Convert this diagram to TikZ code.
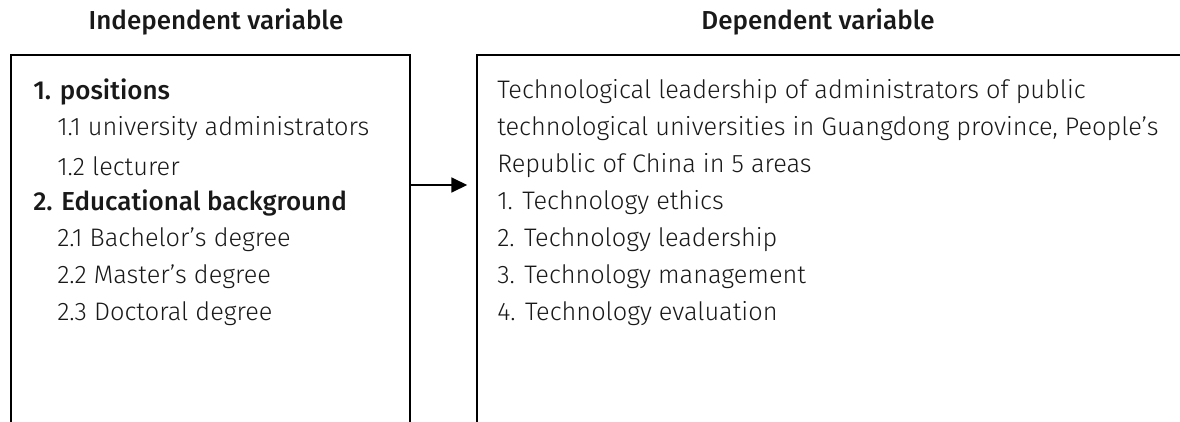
\documentclass[tikz,border=0pt]{standalone}
\usepackage{fontspec}
\setmainfont{Fira Sans Light}[BoldFont={Fira Sans Medium}]
\usepackage{tikz}
\usetikzlibrary{positioning,arrows.meta}
\definecolor{textcolor}{RGB}{25, 25, 25}

\begin{document}
\begin{tikzpicture}[x=0.75pt, y=-0.75pt,
    box/.style={draw, line width=1.8pt, rectangle, anchor=north west, inner sep=0pt},
    head/.style={font=\fontsize{19.5}{22}\selectfont\bfseries, text=textcolor},
    item/.style={anchor=west, inner sep=0pt, font=\fontsize{19}{21}\selectfont, text=textcolor},
    bolditem/.style={item, font=\fontsize{19.5}{22}\selectfont\bfseries},
    arrow/.style={-{Triangle[length=12pt, width=11pt]}, line width=2pt, shorten >=6.5pt}
]
    \clip (0, 0) rectangle (1180, 421);

    \node[head] (ih) at (216, 22) {Independent variable};
    \node[head] (dh) at (818, 22) {Dependent variable};

    \node[box, minimum width=399*0.75pt, minimum height=420*0.75pt] (indep) at (10, 54) {};
    \node[box, minimum width=760*0.75pt, minimum height=420*0.75pt] (dep) at (476, 54) {};

    % independent variable list
    \node[bolditem] (p) at (33, 92) {1. positions};
    \node[item] (p1) at (57, 129) {1.1 university administrators};
    \node[item] (p2) at (57, 166) {1.2 lecturer};
    \node[bolditem] (e) at (33, 203) {2. Educational background};
    \node[item] (e1) at (57, 240) {2.1 Bachelor's degree};
    \node[item] (e2) at (57, 277) {2.2 Master's degree};
    \node[item] (e3) at (57, 314) {2.3 Doctoral degree};

    % dependent variable list
    \node[item] (t1) at (497, 92) {Technological leadership of administrators of public};
    \node[item] (t2) at (497, 129) {technological universities in Guangdong province, People's};
    \node[item] (t3) at (497, 166) {Republic of China in 5 areas};
    \node[item] (a1) at (497, 203) {1. Technology ethics};
    \node[item] (a2) at (497, 240) {2. Technology leadership};
    \node[item] (a3) at (497, 277) {3. Technology management};
    \node[item] (a4) at (497, 314) {4. Technology evaluation};

    \coordinate (mid) at (0, 185);
    \draw[arrow] (indep.east |- mid) -- (dep.west |- mid);
\end{tikzpicture}
\end{document}
